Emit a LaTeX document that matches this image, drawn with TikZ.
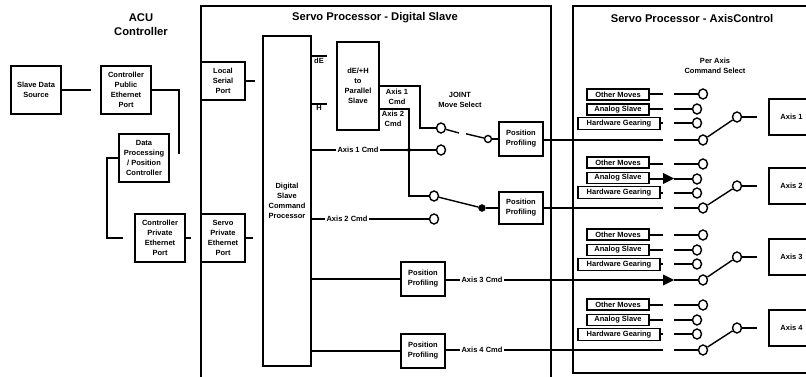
\documentclass[tikz,border=0pt]{standalone}
\usepackage{fontspec}
\setmainfont{Liberation Sans}
\usetikzlibrary{shapes.geometric,arrows.meta}
\tikzset{
  wire/.style={line width=1.4pt,line join=miter},
  frame/.style={line width=1.5pt},
  box/.style={draw,line width=1.4pt,inner sep=0pt,align=center,font=\fontsize{7.5}{10}\selectfont\bfseries,fill=white},
  thinbox/.style={box,line width=1.2pt},
  contact/.style={draw,ellipse,line width=1.4pt,inner sep=0pt,minimum width=9pt,minimum height=10pt,fill=white},
  dark/.style={contact,fill=black,minimum width=6pt,minimum height=6pt},
  lbl/.style={align=center,inner sep=0pt,font=\fontsize{7.5}{10}\selectfont\bfseries},
  linelbl/.style={lbl,fill=white,inner xsep=2pt,inner ysep=1pt},
  title/.style={align=center,inner sep=0pt,font=\fontsize{11.2}{14}\selectfont\bfseries}
}
% name, x1, y1, x2, y2, style, text
\newcommand{\bx}[7]{%
  \pgfmathsetmacro{\mycx}{((#2)+(#4))/2}\pgfmathsetmacro{\mycy}{((#3)+(#5))/2}%
  \pgfmathsetmacro{\mywd}{(#4)-(#2)}\pgfmathsetmacro{\myhg}{(#5)-(#3)}%
  \node[#6,minimum width=\mywd pt,minimum height=\myhg pt] (#1) at (\mycx,\mycy) {#7};}
% group suffix, y of the three boxes, y of top contact, y of lower pivot, y of upper pivot, text
\newcommand{\axgroup}[8]{%
  \bx{oth#1}{587}{#2}{649}{#2+11}{thinbox}{Other Moves}
  \bx{ana#1}{587}{#3}{649}{#3+11}{thinbox}{Analog Slave}
  \bx{hw#1}{578}{#4}{660}{#4+12}{thinbox}{Hardware Gearing}
  \node[contact] (co#1) at (703,#5) {};
  \node[contact] (ca#1) at (697,#5+15) {};
  \node[contact] (ch#1) at (697,#5+29) {};
  \node[contact] (pb#1) at (703,#6) {};
  \node[contact] (pt#1) at (737,#7) {};
  \bx{ax#1}{769}{#7-18}{814}{#7+18}{box}{#8}
  \coordinate (go#1) at (663,#5); \coordinate (ro#1) at (674,#5);
  \coordinate (ga#1) at (663,#5+15); \coordinate (ra#1) at (674,#5+15);
  \coordinate (gh#1) at (663,#5+29); \coordinate (rh#1) at (674,#5+29);
  \coordinate (gb#1) at (663,#6); \coordinate (rb#1) at (674,#6);
  \coordinate (ai#1) at (757,#7);
  \draw[wire] (oth#1.east |- co#1) -- (go#1) (ro#1) -- (co#1);
  \draw[wire] (ra#1) -- (ca#1) (ana#1.east |- ca#1) -- (ga#1);
  \draw[wire] (hw#1.east |- ch#1) -- (gh#1) (rh#1) -- (ch#1);
  \draw[wire] (rb#1) -- (pb#1);
  \draw[wire] (pb#1) -- (pt#1);
  \draw[wire] (pt#1) -- (ai#1);
}
\begin{document}
\begin{tikzpicture}[x=1pt,y=-1pt]
\useasboundingbox (0,0) rectangle (806,377);
% frames
\draw[frame] (201,377) -- (201,6) -- (551,6) -- (551,377);
\draw[frame] (806,6) -- (573,6) -- (573,373) -- (806,373);
\node[title] (tacu) at (141,25) {ACU\\Controller};
\node[title] (t1) at (375,18) {Servo Processor - Digital Slave};
\node[title] (t2) at (692,18) {Servo Processor - AxisControl};
% left part
\bx{src}{11}{66}{61}{114}{box}{Slave Data\\Source}
\bx{pub}{101}{66}{151}{114}{box}{Controller\\Public\\Ethernet\\Port}
\bx{dp}{119}{134}{169}{182}{box}{Data\\Processing\\/ Position\\Controller}
\bx{prv}{135}{214}{185}{262}{box}{Controller\\Private\\Ethernet\\Port}
\bx{loc}{201}{62}{245}{100}{box}{Local\\Serial\\Port}
\bx{spv}{201}{214}{245}{262}{box}{Servo\\Private\\Ethernet\\Port}
\bx{dig}{263}{36}{311}{366}{box}{Digital\\Slave\\Command\\Processor}
\coordinate (a1) at (91,90);
\coordinate (a2) at (179,154);
\coordinate (a3) at (123,238);
\coordinate (a4) at (191,238);
\coordinate (a5) at (253,238);
\coordinate (a6) at (255,81);
\coordinate (bend) at (107,238);
\draw[wire] (src.east) -- (a1);
\draw[wire] (pub.east) -| (a2);
\draw[wire] (dp.west) -| (bend) -- (a3);
\draw[wire] (prv.east) -- (a4);
\draw[wire] (spv.east) -- (a5);
\draw[wire] (loc.east) -- (a6);
% slave part
\bx{par}{337}{42}{379}{130}{box}{dE/+H\\to\\Parallel\\Slave}
\coordinate (e1) at (327,56);
\coordinate (e2) at (327,104);
\coordinate (y1) at (379,86);
\coordinate (y2) at (379,109);
\coordinate (b1) at (420,128);
\coordinate (b2) at (409,196);
\draw[wire] (dig.east |- e1) -- (e1);
\draw[wire] (dig.east |- e2) -- (e2);
\node[lbl] (le) at (319,61) {dE};
\node[lbl] (lh) at (319,108) {H};
\bx{fp1}{499}{122}{543}{156}{box}{Position\\Profiling}
\bx{fp2}{499}{192}{543}{224}{box}{Position\\Profiling}
\bx{fp3}{401}{262}{445}{296}{box}{Position\\Profiling}
\bx{fp4}{401}{334}{445}{368}{box}{Position\\Profiling}
\node[contact] (c1a) at (441,128) {};
\node[contact] (c1b) at (441,150) {};
\node[contact] (c2a) at (434,196) {};
\node[contact] (c2b) at (434,219) {};
\node[contact,minimum width=7pt,minimum height=7pt] (p1) at (488,139) {};
\node[dark] (p2) at (482,208) {};
\coordinate (g1a) at (459,133);
\coordinate (g1b) at (466,133.8);
\draw[wire] (y1) -| (b1) -- (c1a);
\draw[wire] (y2) -| (b2) -- (c2a);
\draw[wire] (dig.east |- c1b) -- (c1b);
\draw[wire] (dig.east |- c2b) -- (c2b);
\fill (409,150) circle (2pt);
\draw[wire] (c1a) -- (g1a);
\draw[wire] (g1b) -- (p1);
\draw[wire] (c2a) -- (p2);
\draw[wire] (p1) -- (fp1.west |- p1);
\draw[wire] (p2) -- (fp2.west |- p2);
\draw[wire] (dig.east |- fp3) -- (fp3.west);
\draw[wire] (dig.east |- fp4) -- (fp4.west);
\node[linelbl] (l1) at (358,150) {Axis 1 Cmd};
\node[linelbl] (l2) at (347,219) {Axis 2 Cmd};
\node[lbl] (l1c) at (397,97) {Axis 1\\Cmd};
\node[lbl] (l2c) at (393,119) {Axis 2\\Cmd};
\node[lbl] (ljm) at (460,100) {JOINT\\Move Select};
% axis control part
\node[lbl] (per) at (715,66) {Per Axis\\Command Select};
\axgroup{1}{89}{104}{117.5}{94}{140}{117}{Axis 1}
\axgroup{2}{157}{172.5}{186.5}{164}{208}{186}{Axis 2}
\axgroup{3}{229}{244.5}{258.5}{235}{280}{257}{Axis 3}
\axgroup{4}{299}{314.5}{328.5}{305}{350}{328}{Axis 4}
% profile outputs
\draw[wire] (fp1.east |- pb1) -- (gb1);
\draw[wire] (fp2.east |- pb2) -- (gb2);
\draw[wire] (fp3.east |- pb3) -- (gb3);
\draw[wire] (fp4.east |- pb4) -- (gb4);
\fill (663,173) -- (674,178.5) -- (663,184) -- cycle;
\fill (663,274.5) -- (674,280) -- (663,285.5) -- cycle;
\node[linelbl] (l3) at (482,280) {Axis 3 Cmd};
\node[linelbl] (l4) at (482,350) {Axis 4 Cmd};
\end{tikzpicture}
\end{document}
